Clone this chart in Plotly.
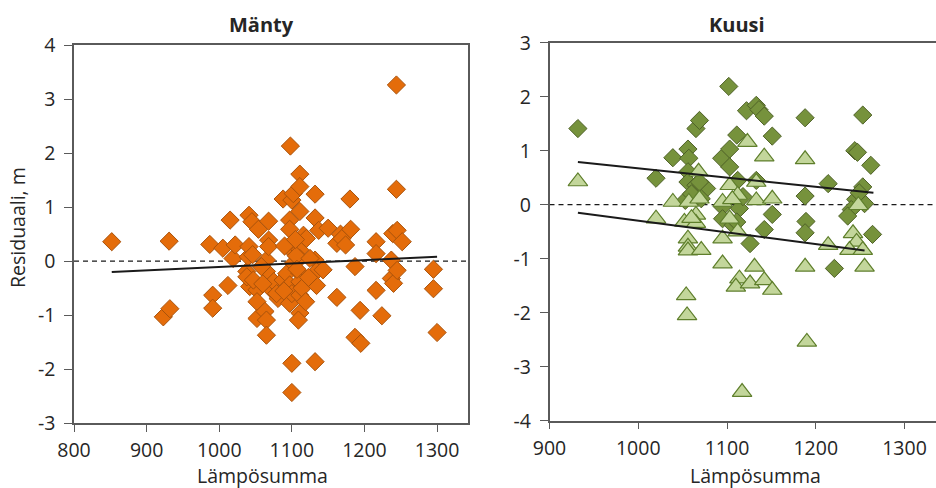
import plotly.graph_objects as go

# ---------------- data ----------------
manty_x = [852, 931, 923, 932, 987, 991, 991, 1005, 1012, 1015, 1019, 1022, 1038, 1040, 1041,
           1041, 1045, 1042, 1052, 1052, 1052, 1054, 1038, 1047, 1065, 1065, 1068, 1068, 1068,
           1070, 1063, 1065, 1065, 1075, 1081, 1079, 1088, 1088, 1093, 1098, 1100, 1102, 1097,
           1097, 1097, 1100, 1102, 1097, 1097, 1100, 1100, 1100, 1111, 1111, 1111, 1111, 1111,
           1111, 1111, 1111, 1111, 1109, 1114, 1116, 1120, 1106, 1132, 1132, 1137, 1132, 1134,
           1134, 1132, 1143, 1150, 1162, 1162, 1167, 1169, 1174, 1180, 1181, 1187, 1187, 1195,
           1194, 1216, 1216, 1216, 1224, 1237, 1237, 1240, 1244, 1244, 1239, 1245, 1252, 1245,
           1295, 1295, 1300, 1058, 1046, 1123, 1125, 1090, 1105, 1107, 1060, 1119, 1089]
manty_y = [0.36, 0.37, -1.03, -0.88, 0.31, -0.63, -0.87, 0.24, -0.45, 0.76, 0.05, 0.30, -0.19, 0.08, 0.85,
           0.27, 0.73, -0.47, -0.53, -0.75, -1.06, 0.59, -0.29, -0.35, 0.02, -0.19, 0.74, 0.39, 0.27,
           -0.50, -0.93, -1.09, -1.37, -0.38, -0.69, -0.60, 1.15, -0.35, -0.23, 2.13, 1.13, 1.25, 0.76,
           0.59, 0.27, 0.20, -0.04, -0.44, -0.78, -0.60, -1.89, -2.43, 1.61, 1.38, 0.92, 0.21, 0.05,
           -0.22, -0.38, -0.63, -0.96, -1.09, -0.50, 0.48, 0.42, 0.10, 1.24, 0.80, 0.57, 0.02, -0.19,
           -0.45, -1.86, -0.16, 0.61, 0.33, -0.67, 0.50, 0.42, 0.30, 1.15, 0.59, -0.10, -1.41, -1.52,
           -0.91, 0.36, 0.14, -0.54, -1.01, 0.02, -0.32, -0.41, 3.26, 1.33, 0.51, 0.57, 0.36, -0.17,
           -0.15, -0.51, -1.32, -0.10, 0.12, -0.30, 0.05, 0.28, 0.40, -0.15, -0.42, -0.75, -0.55]

kuusi_d_x = [932, 1020, 1039, 1056, 1057, 1065, 1069, 1056, 1056, 1065, 1077, 1071, 1053, 1069,
             1102, 1094, 1103, 1103, 1111, 1112, 1122, 1133, 1136, 1142, 1151, 1133, 1095, 1095,
             1114, 1107, 1111, 1126, 1142, 1151, 1188, 1188, 1189, 1188, 1214, 1221, 1253, 1244,
             1247, 1262, 1253, 1245, 1255, 1240, 1236, 1264, 1118, 1060, 1249]
kuusi_d_y = [1.41, 0.49, 0.87, 1.03, 0.86, 1.41, 1.56, 0.61, 0.42, 0.36, 0.30, 0.11, 0.08, 0.42,
             2.19, 0.86, 1.03, 0.70, 1.29, 0.45, 1.74, 1.84, 1.76, 1.64, 1.27, 0.45, -0.04, -0.26,
             -0.07, -0.38, -0.32, -0.72, -0.46, -0.18, 1.61, 0.16, -0.31, -0.52, 0.39, -1.18, 1.66, 1.00,
             0.97, 0.73, 0.33, 0.10, 0.02, -0.09, -0.21, -0.55, 0.15, 0.20, 0.22]

kuusi_t_x = [932, 1020, 1039, 1057, 1052, 1065, 1065, 1068, 1069, 1056, 1056, 1056, 1071, 1054,
             1055, 1095, 1095, 1095, 1103, 1112, 1103, 1112, 1123, 1133, 1133, 1151, 1142, 1114,
             1110, 1126, 1131, 1142, 1151, 1117, 1188, 1188, 1190, 1214, 1248, 1242, 1246, 1238,
             1253, 1255, 1060, 1106]
kuusi_t_y = [0.43, -0.26, 0.05, 0.05, -0.32, -0.19, -0.34, 0.61, 0.11, -0.63, -0.78, -0.85, -0.84, -1.68,
             -2.05, 0.05, -0.63, -1.09, 0.36, 0.18, -0.26, -0.50, 1.16, 0.42, 0.08, 0.11, 0.89, -1.37,
             -1.52, -1.46, -1.15, -1.40, -1.58, -3.47, 0.84, -1.15, -2.54, -0.75, -0.01, -0.53, -0.69, -0.84,
             -0.84, -1.15, -0.25, 0.10]

manty_trend_x = [852, 1300]
manty_trend_y = [-0.20, 0.08]
kuusi_d_trend_x = [932, 1265]
kuusi_d_trend_y = [0.79, 0.22]
kuusi_t_trend_x = [932, 1255]
kuusi_t_trend_y = [-0.15, -0.85]

x_ticks_left = [800, 900, 1000, 1100, 1200, 1300]
x_ticks_right = [900, 1000, 1100, 1200, 1300]
y_ticks_left = [-3, -2, -1, 0, 1, 2, 3, 4]
y_ticks_right = [-4, -3, -2, -1, 0, 1, 2, 3]

# ---------------- figure ----------------
W, H = 936, 488
FONT = "Open Sans"
TXT = "#262626"
AX = "#5a5a5a"

fig = go.Figure()

fig.add_trace(go.Scatter(x=manty_x, y=manty_y, mode="markers", xaxis="x", yaxis="y",
                         marker=dict(symbol="diamond", size=14, color="#E46C0A",
                                     line=dict(color="#A9530C", width=1)),
                         showlegend=False))
fig.add_trace(go.Scatter(x=manty_trend_x, y=manty_trend_y, mode="lines", xaxis="x", yaxis="y",
                         line=dict(color="#1a1a1a", width=2), showlegend=False))

fig.add_trace(go.Scatter(x=kuusi_d_x, y=kuusi_d_y, mode="markers", xaxis="x2", yaxis="y2",
                         marker=dict(symbol="diamond", size=14, color="#76923C",
                                     line=dict(color="#4F6228", width=1)),
                         showlegend=False))
fig.add_trace(go.Scatter(x=kuusi_t_x, y=kuusi_t_y, mode="markers", xaxis="x2", yaxis="y2",
                         marker=dict(symbol="triangle-up", size=17, color="#C3D69B",
                                     line=dict(color="#5F7F2C", width=1.2)),
                         showlegend=False))
fig.add_trace(go.Scatter(x=kuusi_d_trend_x, y=kuusi_d_trend_y, mode="lines", xaxis="x2", yaxis="y2",
                         line=dict(color="#1a1a1a", width=2), showlegend=False))
fig.add_trace(go.Scatter(x=kuusi_t_trend_x, y=kuusi_t_trend_y, mode="lines", xaxis="x2", yaxis="y2",
                         line=dict(color="#1a1a1a", width=2), showlegend=False))

# dashed zero lines (below markers)
for xr, yr in (("x domain", "y"), ("x2 domain", "y2")):
    fig.add_shape(type="line", xref=xr, yref=yr, x0=0, x1=1, y0=0, y1=0, layer="below",
                  line=dict(color="#1a1a1a", width=1.3, dash="5px,4px"))

tickfont = dict(family=FONT, size=19.5, color=TXT)
common_x = dict(showgrid=False, zeroline=False, showline=True, linecolor=AX, linewidth=1.5,
                ticks="outside", ticklen=7, tickcolor=AX, tickwidth=1.3, tickfont=tickfont,
                ticklabelstandoff=2, automargin=False)
common_y = dict(showgrid=False, zeroline=False, showline=True, linecolor=AX, linewidth=1.5,
                ticks="outside", ticklen=8, tickcolor=AX, tickwidth=1.3, tickfont=tickfont,
                ticklabelstandoff=5, automargin=False)

fig.update_layout(
    width=W, height=H,
    margin=dict(l=0, r=0, t=0, b=0),
    paper_bgcolor="white", plot_bgcolor="white",
    xaxis=dict(common_x, domain=[74 / W, 468.3 / W], range=[800, 1343],
               tickvals=x_ticks_left, ticktext=[str(v) for v in x_ticks_left],
               mirror=True, anchor="y"),
    yaxis=dict(common_y, domain=[(H - 423.3) / H, (H - 45) / H], range=[-3, 4],
               tickvals=y_ticks_left, ticktext=[str(v) for v in y_ticks_left],
               mirror=True, anchor="x"),
    xaxis2=dict(common_x, domain=[549.5 / W, 1.0], range=[900, 1335.5],
                tickvals=x_ticks_right, ticktext=[str(v) for v in x_ticks_right],
                mirror=True, anchor="y2"),
    yaxis2=dict(common_y, domain=[(H - 420.7) / H, (H - 42.7) / H], range=[-4, 3],
                tickvals=y_ticks_right, ticktext=[str(v) for v in y_ticks_right], anchor="x2"),
)

title_font = dict(family=FONT, size=20, color=TXT)
lab_font = dict(family=FONT, size=19.5, color=TXT)
ann = [
    dict(text="<b>Mänty</b>", x=261.7 / W, y=1 - 24 / H, font=title_font),
    dict(text="<b>Kuusi</b>", x=736.7 / W, y=1 - 24 / H, font=title_font),
    dict(text="Lämpösumma", x=262.5 / W, y=1 - 475 / H, font=lab_font),
    dict(text="Lämpösumma", x=755.5 / W, y=1 - 475 / H, font=lab_font),
    dict(text="Residuaali, m", x=18 / W, y=1 - 228 / H, textangle=-90, font=lab_font),
]
for a in ann:
    fig.add_annotation(xref="paper", yref="paper", showarrow=False,
                       xanchor="center", yanchor="middle", **a)

fig.write_html("out.html")
